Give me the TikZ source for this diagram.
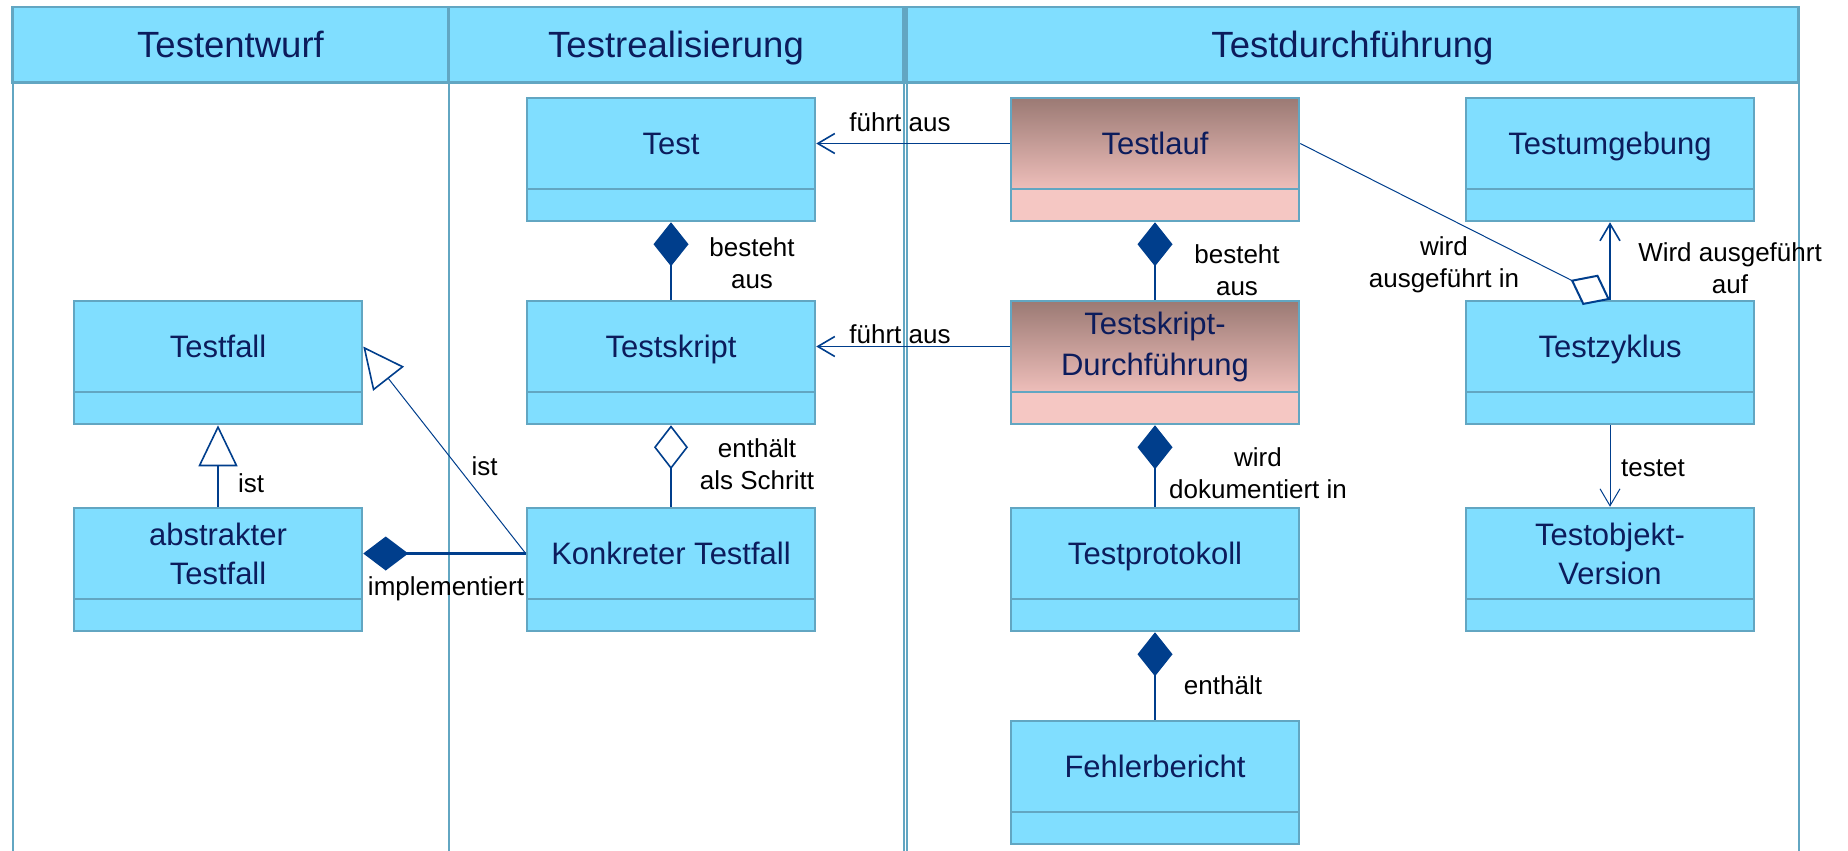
\documentclass[tikz,border=0pt]{standalone}
\usepackage{fontspec}
\setmainfont{Liberation Sans}
\usetikzlibrary{arrows.meta}
\definecolor{boxcol}{RGB}{128,222,255}
\definecolor{lanecol}{RGB}{98,166,194}
\definecolor{textcol}{RGB}{12,28,92}
\definecolor{relcol}{RGB}{0,62,140}
\definecolor{runtop}{RGB}{155,122,116}
\definecolor{runbottom}{RGB}{238,190,186}
\definecolor{runlowcol}{RGB}{245,199,195}
\tikzset{
    lanehead/.style={draw=lanecol, line width=2.5pt, fill=boxcol, text=textcol, inner sep=0pt,
        font=\fontsize{36.5}{44}\selectfont, text height=26.3pt, text depth=0pt},
    laneline/.style={draw=lanecol, line width=2pt},
    classbox/.style={draw=lanecol, line width=2.5pt, fill=boxcol, text=textcol, inner sep=0pt,
        minimum width=288pt, minimum height=91pt, align=center,
        font=\fontsize{31}{39}\selectfont, text height=22.3pt, text depth=0pt},
    classlow/.style={draw=lanecol, line width=2.5pt, fill=boxcol, inner sep=0pt,
        minimum width=288pt, minimum height=32pt},
    twolines/.style={text height=, text depth=},
    runbox/.style={classbox, top color=runtop, bottom color=runbottom},
    runlow/.style={classlow, fill=runlowcol},
    rel/.style={draw=relcol, line width=1.6pt},
    relthin/.style={draw=relcol, line width=1pt},
    relthick/.style={draw=relcol, line width=2.5pt},
    lbl/.style={font=\fontsize{26}{32}\selectfont, align=center, inner sep=0pt},
    opentip/.style={-{Straight Barb[length=17pt,width=20pt]}},
    fulldiamond/.style={{Diamond[length=44pt,width=35pt]}-},
    opendiamond/.style={{Diamond[open,fill=white,length=44pt,width=34pt]}-},
    generaltip/.style={-{Triangle[open,fill=white,length=41pt,width=39pt]}}
}
\begin{document}
\begin{tikzpicture}[x=1pt,y=-1pt]
        \useasboundingbox (0,0) rectangle (1848,851);
        \draw[laneline] (12.5,82.5) -- (12.5,851);
        \draw[laneline] (448.5,82.5) -- (448.5,851);
        \draw[laneline] (903.5,82.5) -- (903.5,851);
        \draw[laneline] (906.5,82.5) -- (906.5,851);
        \draw[laneline] (1798.5,82.5) -- (1798.5,851);
        \node[lanehead, minimum width=436pt, minimum height=75.5pt] (entwurf) at (230.5,44.75) {Testentwurf};
        \node[lanehead, minimum width=455pt, minimum height=75.5pt] (realisierung) at (676,44.75) {Testrealisierung};
        \node[lanehead, minimum width=892pt, minimum height=75.5pt] (durchfuehrung) at (1352.5,44.75) {Testdurchführung};

        \node[classbox] (testfall) at (218,346.5) {Testfall};
        \node[classlow] (testfall-b) at (218,408) {};
        \node[classbox, twolines] (abstrakt) at (218,553.5) {abstrakter\\Testfall};
        \node[classlow] (abstrakt-b) at (218,615) {};
        \node[classbox] (test) at (671,143.5) {Test};
        \node[classlow] (test-b) at (671,205) {};
        \node[classbox] (testskript) at (671,346.5) {Testskript};
        \node[classlow] (testskript-b) at (671,408) {};
        \node[classbox] (konkret) at (671,553.5) {Konkreter Testfall};
        \node[classlow] (konkret-b) at (671,615) {};
        \node[runbox] (testlauf) at (1155,143.5) {Testlauf};
        \node[runlow] (testlauf-b) at (1155,205) {};
        \node[runbox, twolines, font=\fontsize{31}{41}\selectfont] (tsdurch) at (1155,346.5) {Testskript-\\Durchführung};
        \node[runlow] (tsdurch-b) at (1155,408) {};
        \node[classbox] (protokoll) at (1155,553.5) {Testprotokoll};
        \node[classlow] (protokoll-b) at (1155,615) {};
        \node[classbox] (fehler) at (1155,766.5) {Fehlerbericht};
        \node[classlow] (fehler-b) at (1155,828) {};
        \node[classbox] (umgebung) at (1610,143.5) {Testumgebung};
        \node[classlow] (umgebung-b) at (1610,205) {};
        \node[classbox] (zyklus) at (1610,346.5) {Testzyklus};
        \node[classlow] (zyklus-b) at (1610,408) {};
        \node[classbox, twolines] (version) at (1610,553.5) {Testobjekt-\\Version};
        \node[classlow] (version-b) at (1610,615) {};

        \draw[rel, opentip] (testlauf.west) -- (test.east);
        \draw[rel, opentip] (tsdurch.west) -- (testskript.east);
        \draw[rel, fulldiamond] (test-b.south) -- (testskript.north);
        \draw[rel, fulldiamond] (testlauf-b.south) -- (tsdurch.north);
        \draw[rel, opendiamond] (testskript-b.south) -- (konkret.north);
        \draw[rel, fulldiamond] (tsdurch-b.south) -- (protokoll.north);
        \draw[rel, fulldiamond] (protokoll-b.south) -- (fehler.north);
        \draw[relthin, -{Diamond[open,fill=white,length=44pt,width=34pt,line width=2pt]}] (testlauf.east) -- (zyklus.north);
        \draw[rel, opentip] (zyklus.north) -- (umgebung-b.south);
        \draw[relthin, opentip] (zyklus-b.south) -- (version.north);
        \draw[rel, generaltip] (abstrakt.north) -- (testfall-b.south);
        \draw[relthin, -{Triangle[open,fill=white,length=41pt,width=39pt,line width=1.6pt]}] (konkret.west) -- (testfall.east);
        \draw[relthick, -{Diamond[length=45pt,width=34pt]}] (konkret.west) -- (abstrakt.east);

        \node[lbl] (l-fuehrt1) at (900,122) {führt aus};
        \node[lbl] (l-fuehrt2) at (900,334) {führt aus};
        \node[lbl] (l-besteht1) at (752,263) {besteht\\aus};
        \node[lbl] (l-besteht2) at (1237,270.5) {besteht\\aus};
        \node[lbl] (l-enthaelt1) at (757,464) {enthält\\als Schritt};
        \node[lbl] (l-doku) at (1258,473.5) {wird\\dokumentiert in};
        \node[lbl] (l-enthaelt2) at (1223,685) {enthält};
        \node[lbl] (l-ausgefuehrtin) at (1444,265) {wird\\ausgeführt in};
        \node[lbl] (l-ausgefuehrtauf) at (1730,268.5) {Wird ausgeführt\\auf};
        \node[lbl] (l-testet) at (1653,468) {testet};
        \node[lbl] (l-ist1) at (251,483) {ist};
        \node[lbl] (l-ist2) at (484.5,466.7) {ist};
        \node[lbl] (l-impl) at (446,589) {implementiert};
    \end{tikzpicture}
\end{document}
